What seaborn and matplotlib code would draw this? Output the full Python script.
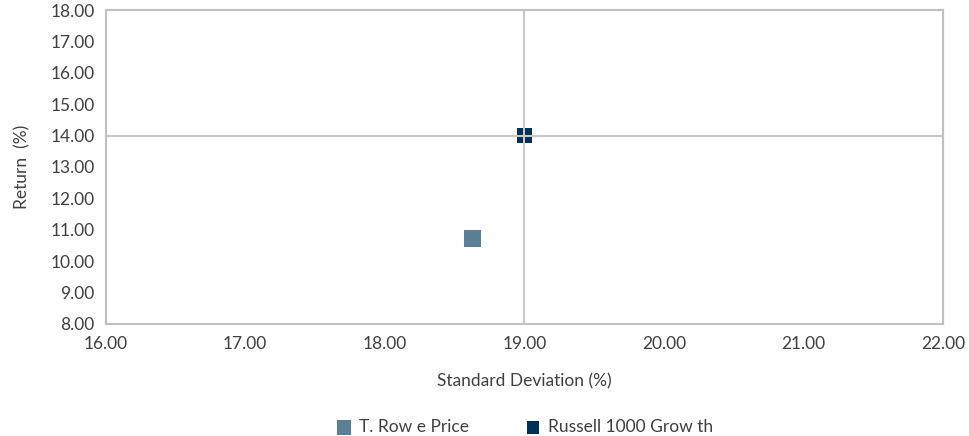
import seaborn as sns
import matplotlib.pyplot as plt
import pandas as pd

# данные риск/доходность
names = ["T. Row e Price", "Russell 1000 Grow th"]
std_dev = [18.63, 19.00]
returns = [10.72, 14.00]
colors = ["#5b7f95", "#003057"]
sizes = [150, 110]

df = pd.DataFrame({"name": names, "std": std_dev, "ret": returns})

sns.set_style("white")
plt.rcParams["font.family"] = ["Lato", "DejaVu Sans"]

fig = plt.figure(figsize=(9.7, 4.36), dpi=100)
ax = fig.add_axes([0.109, 0.257, 0.863, 0.72])

for i, row in df.iterrows():
    sns.scatterplot(x=[row["std"]], y=[row["ret"]], marker="s", s=sizes[i],
                    color=colors[i], edgecolor="none", ax=ax, zorder=3,
                    label=row["name"])

# перекрестие по бенчмарку
ax.axvline(std_dev[1], color="#c8c8c8", lw=1.5, zorder=4)
ax.axhline(returns[1], color="#c8c8c8", lw=1.5, zorder=4)

ax.set_xlim(16, 22)
ax.set_ylim(8, 18)
ax.set_xticks(range(16, 23))
ax.set_yticks(range(8, 19))
ax.xaxis.set_major_formatter(plt.FormatStrFormatter("%.2f"))
ax.yaxis.set_major_formatter(plt.FormatStrFormatter("%.2f"))
ax.tick_params(labelsize=12.5, colors="#404040", length=0)
ax.tick_params(axis="x", pad=9)
ax.tick_params(axis="y", pad=8)
for s in ax.spines.values():
    s.set_color("#c0c0c0")
    s.set_linewidth(1.5)

ax.set_xlabel("Standard Deviation (%)", fontsize=12.5, color="#404040", labelpad=15)
ax.set_ylabel("Return  (%)", fontsize=12.5, color="#404040", labelpad=14)

ax.legend(loc="center", bbox_to_anchor=(0.5, -0.328), ncol=2, frameon=False,
          fontsize=12.5, handletextpad=0.35, handlelength=1.0, columnspacing=3.2,
          markerscale=0.85, labelcolor="#404040")

fig.savefig("out.png", dpi=100)
